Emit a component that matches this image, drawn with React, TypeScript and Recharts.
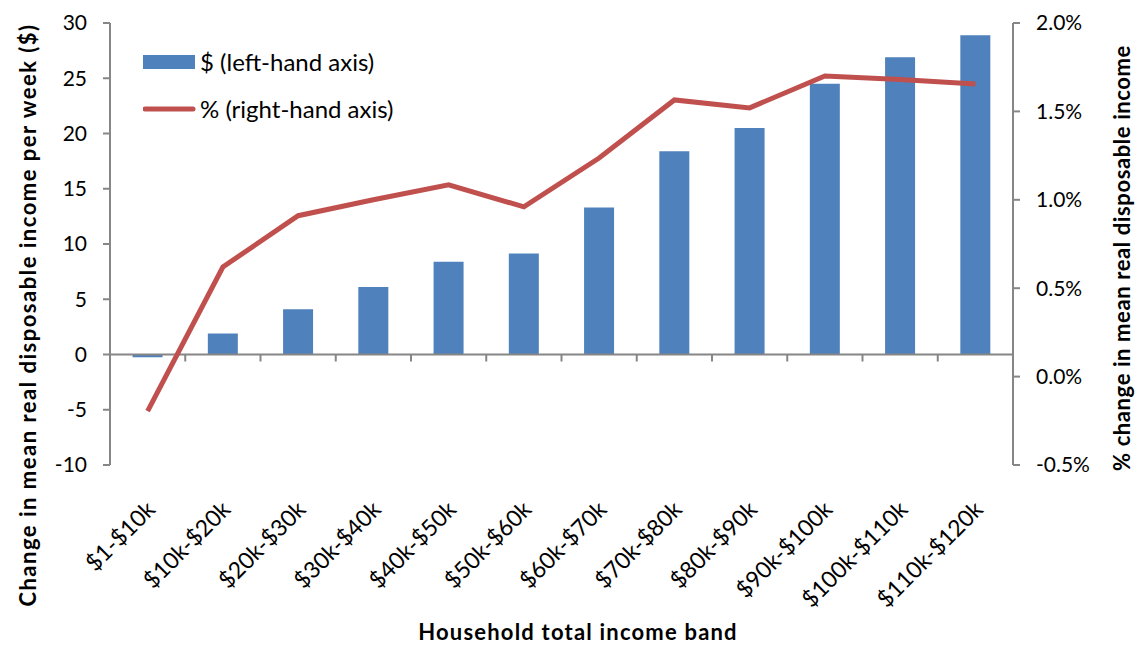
import { ComposedChart, Bar, Line, XAxis, YAxis, ReferenceLine, Legend } from 'recharts';

// income bands (categories)
const bands = [
	'$1-$10k', '$10k-$20k', '$20k-$30k', '$30k-$40k', '$40k-$50k', '$50k-$60k',
	'$60k-$70k', '$70k-$80k', '$80k-$90k', '$90k-$100k', '$100k-$110k', '$110k-$120k',
];

// $ change per week (left axis)
const dollarChange = [-0.25, 1.9, 4.1, 6.1, 8.4, 9.15, 13.3, 18.4, 20.5, 24.5, 26.9, 28.9];

// % change (right axis)
const pctChange = [-0.195, 0.62, 0.91, 1.0, 1.085, 0.96, 1.236, 1.565, 1.52, 1.7, 1.68, 1.655];

const leftTicks = [-10, -5, 0, 5, 10, 15, 20, 25, 30];
const rightTicks = [-0.5, 0, 0.5, 1, 1.5, 2];

const BLUE = '#4F81BD';
const RED = '#C0504D';
const GREY = '#868686';
const FONT = 'Lato, "Open Sans", sans-serif';

const W = 1137;
const H = 645;
const margin = { top: 23, right: 64, bottom: 0, left: 50 };
const Y_W = 60;
const X_H = 180;
const plotLeft = margin.left + Y_W;
const plotRight = W - margin.right - Y_W;
const plotTop = margin.top;
const plotBottom = H - margin.bottom - X_H;
const bandW = (plotRight - plotLeft) / bands.length;
// pixel of 0 on the left axis, used for the little boundary ticks
const zeroY = plotTop + (plotBottom - plotTop) * (30 / 40);

const data = bands.map((band, i) => ({
	band,
	dollars: dollarChange[i],
	pct: pctChange[i],
}));

function BandTick(props: any) {
	const { x, y, payload, index } = props;
	return (
		<g>
			{index < bands.length - 1 && (
				<line x1={x + bandW / 2} x2={x + bandW / 2} y1={zeroY} y2={zeroY + 7} stroke={GREY} strokeWidth={2} />
			)}
			<text
				transform={`translate(${x + 9},${y + 46}) rotate(-45)`}
				textAnchor="end"
				fontFamily={FONT}
				fontSize={23}
				fill="#000"
			>
				{payload.value}
			</text>
		</g>
	);
}

function renderLegend(props: any) {
	const { payload } = props;
	return (
		<div style={{ fontFamily: FONT, fontSize: 24, color: '#000' }}>
			{payload.map((entry: any) => (
				<div key={entry.value} style={{ display: 'flex', alignItems: 'center', height: 47, whiteSpace: 'nowrap' }}>
					<svg width={57} height={20}>
						{entry.type === 'line' ? (
							<line x1={2} x2={50} y1={10} y2={10} stroke={entry.color} strokeWidth={5} strokeLinecap="round" />
						) : (
							<rect x={0} y={3} width={52} height={14} fill={entry.color} />
						)}
					</svg>
					<span>{entry.value}</span>
				</div>
			))}
		</div>
	);
}

export default function App() {
	const tickStyle = { fontFamily: FONT, fontSize: 21, fill: '#000' };
	return (
		<div style={{ position: 'absolute', left: 0, top: 0, background: '#fff' }}>
			<ComposedChart width={W} height={H} data={data} margin={margin} barCategoryGap="30%">
				<XAxis
					dataKey="band"
					xAxisId="x"
					height={X_H}
					axisLine={false}
					tickLine={false}
					tickSize={0}
					tickMargin={0}
					interval={0}
					tick={<BandTick />}
					label={() => (
						<text x={578} y={640} textAnchor="middle" fontFamily={FONT} fontSize={22} fontWeight="bold" letterSpacing={1.2} fill="#000">
							Household total income band
						</text>
					)}
				/>
				<YAxis
					yAxisId="left"
					orientation="left"
					width={Y_W}
					domain={[-10, 30]}
					ticks={leftTicks}
					interval={0}
					tick={tickStyle}
					tickSize={7}
					tickMargin={16}
					axisLine={{ stroke: GREY, strokeWidth: 2 }}
					tickLine={{ stroke: GREY, strokeWidth: 2 }}
					label={() => (
						<text
							transform="translate(36,315) rotate(-90)"
							textAnchor="middle"
							fontFamily={FONT}
							fontSize={22}
							fontWeight="bold"
							letterSpacing={1.5}
							fill="#000"
						>
							Change in mean real disposable income per week ($)
						</text>
					)}
				/>
				<YAxis
					yAxisId="right"
					orientation="right"
					width={Y_W}
					domain={[-0.5, 2]}
					ticks={rightTicks}
					interval={0}
					tick={tickStyle}
					tickFormatter={(v: number) => `${v.toFixed(1)}%`}
					tickSize={7}
					tickMargin={16}
					axisLine={{ stroke: GREY, strokeWidth: 2 }}
					tickLine={{ stroke: GREY, strokeWidth: 2 }}
					label={() => (
						<text
							transform="translate(1130,258) rotate(-90)"
							textAnchor="middle"
							fontFamily={FONT}
							fontSize={22}
							fontWeight="bold"
							letterSpacing={0.6}
							fill="#000"
						>
							% change in mean real disposable income
						</text>
					)}
				/>
				<Legend
					layout="vertical"
					align="center"
					verticalAlign="middle"
					wrapperStyle={{ left: 143, top: 38, width: 'auto', height: 'auto' }}
					content={renderLegend}
				/>
				<Bar
					xAxisId="x"
					yAxisId="left"
					dataKey="dollars"
					name="$ (left-hand axis)"
					fill={BLUE}
					isAnimationActive={false}
				/>
				<ReferenceLine xAxisId="x" yAxisId="left" y={0} stroke={GREY} strokeWidth={2} />
				<Line
					xAxisId="x"
					yAxisId="right"
					dataKey="pct"
					name="% (right-hand axis)"
					type="linear"
					stroke={RED}
					strokeWidth={5}
					dot={false}
					activeDot={false}
					isAnimationActive={false}
				/>
			</ComposedChart>
		</div>
	);
}
